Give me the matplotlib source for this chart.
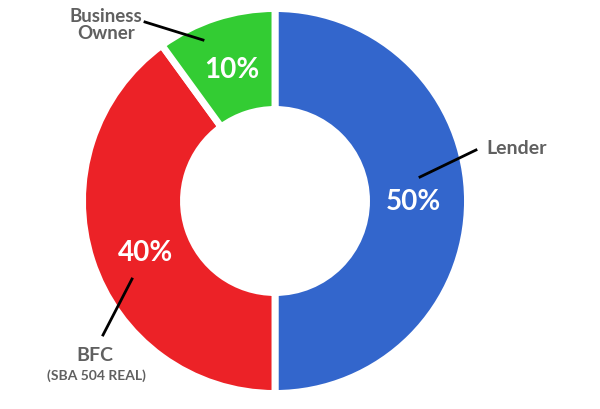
import matplotlib
matplotlib.use("Agg")
from matplotlib import pyplot as plt

labels = ["Lender", "BFC", "Business\nOwner"]
shares = [50, 40, 10]
colors = ["#3366cc", "#ec2227", "#33cc33"]

plt.rcParams["font.family"] = ["Lato", "DejaVu Sans"]
GREY = "#606060"

W, H = 600, 410


def py(y):
    # image pixel row -> axes y
    return H - y


fig = plt.figure(figsize=(6, 4.1), dpi=100)
ax = fig.add_axes([0, 0, 1, 1])

R = 192.5
wedges, texts, pcts = ax.pie(
    shares, colors=colors, startangle=90, counterclock=False,
    center=(275, py(202)), radius=R, autopct="%d%%", pctdistance=0.72,
    wedgeprops=dict(width=101, edgecolor="white", linewidth=5),
    textprops=dict(color="white", fontsize=20, fontweight="bold"),
    frame=True)
ax.set_xlim(0, W)
ax.set_ylim(0, H)
ax.set_aspect("equal")
ax.axis("off")
pcts[1].set_position((146, py(253)))

# leader lines and category labels
ax.plot([476, 420], [py(151), py(178)], color="black", lw=2)
ax.text(486, py(148), labels[0], color=GREY, fontsize=14, fontweight="bold",
        ha="left", va="center")

ax.plot([132, 103], [py(280), py(336)], color="black", lw=2)
ax.text(95, py(356), labels[1], color=GREY, fontsize=14, fontweight="bold",
        ha="center", va="center")
ax.text(96, py(376), "(SBA 504 REAL)", color=GREY, fontsize=10,
        fontweight="bold", ha="center", va="center")

ax.plot([145, 203], [py(23), py(41)], color="black", lw=2)
ax.text(106, py(25), labels[2], color=GREY, fontsize=13.5, fontweight="bold",
        ha="center", va="center", linespacing=1.0)

fig.savefig("out.png", dpi=100)
